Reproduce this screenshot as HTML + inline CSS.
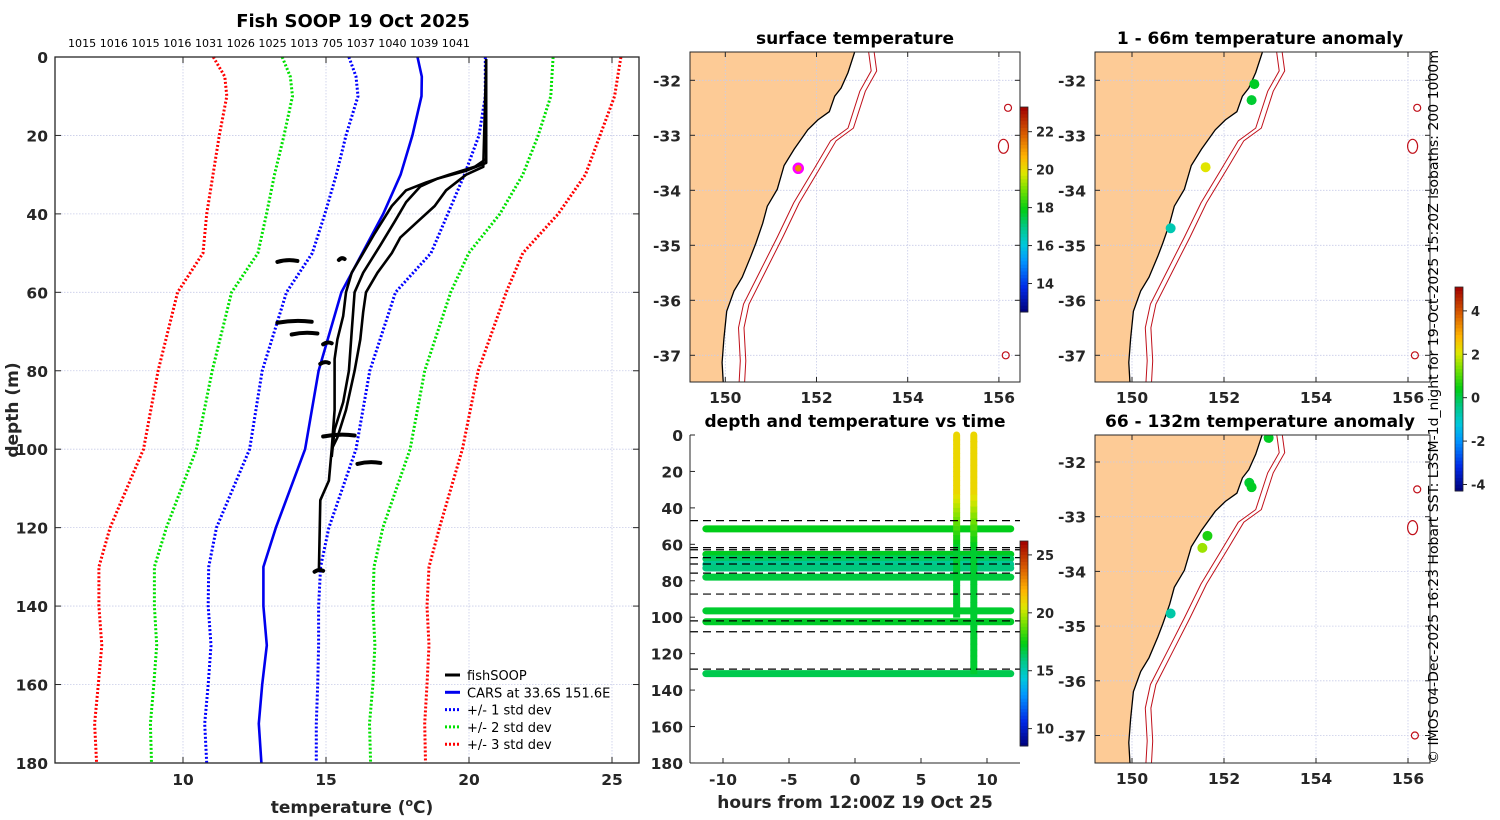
<!DOCTYPE html>
<html><head><meta charset="utf-8">
<style>
html,body{margin:0;padding:0;background:#fff;}
svg{display:block;font-family:"DejaVu Sans","Liberation Sans",sans-serif;}
.tk{font-size:15.5px;font-weight:bold;fill:#262626;}
.ttl{font-size:17px;font-weight:bold;fill:#000;}
</style></head>
<body>
<svg id="fig" width="1500" height="820" viewBox="0 0 1500 820" xmlns="http://www.w3.org/2000/svg">
<rect x="0" y="0" width="1500" height="820" fill="#fff"/>
<g id="left"></g>
<g id="mtop"></g>
<g id="mbot"></g>
<g id="rtop"></g>
<g id="rbot"></g>
<text transform="translate(1438,764) rotate(-90)" font-size="13" fill="#000" textLength="714" lengthAdjust="spacingAndGlyphs">© IMOS 04-Dec-2025 16:23 Hobart SST: L3SM-1d_night for 19-Oct-2025 15:20Z isobaths: 200  1000m</text>
</svg>
<script>
// ---------- DATA ----------
const depthLevels=[0,5,10,20,30,40,50,60,80,100,120,130,140,150,160,170,180];
const carsMean=[18.2,18.35,18.34,18.02,17.61,17.0,16.27,15.54,14.74,14.27,13.25,12.81,12.81,12.93,12.77,12.65,12.74];
const sd1Low=[15.8,16.05,16.12,15.7,15.36,14.96,14.52,13.62,12.77,12.33,11.17,10.9,10.88,10.98,10.88,10.76,10.83];
const sd1High=[20.57,20.57,20.57,20.35,19.84,19.26,18.67,17.43,16.53,16.05,15.1,14.81,14.74,14.74,14.71,14.66,14.66];
const sd2Low=[13.47,13.75,13.83,13.53,13.2,12.92,12.62,11.7,11.02,10.47,9.42,9.0,9.0,9.08,8.98,8.86,8.9];
const sd2High=[22.94,22.9,22.86,22.42,21.88,21.08,19.99,19.36,18.45,17.94,16.99,16.68,16.64,16.71,16.64,16.52,16.56];
const sd3Low=[11.06,11.46,11.53,11.27,11.05,10.83,10.7,9.81,9.13,8.62,7.45,7.06,7.06,7.16,7.04,6.91,6.98];
const sd3High=[25.31,25.2,25.09,24.58,24.07,23.12,21.88,21.3,20.32,19.77,18.97,18.6,18.53,18.6,18.53,18.45,18.48];
const profA_d=[0.5,26,28,30,32,34,38,45,50,55,60,66,72,77,90,100,108,113,131];
const profA_t=[20.6,20.6,20.2,19.3,18.5,17.8,17.3,16.7,16.3,15.9,15.7,15.6,15.4,15.3,15.3,15.2,15.1,14.8,14.75];
const profB_d=[0.5,27,29,31,33,37,42,48,55,60,70,80,88,95,102];
const profB_t=[20.6,20.6,19.9,18.9,18.3,17.8,17.4,16.9,16.3,16.0,15.9,15.8,15.6,15.3,15.2];
const profC_d=[0.5,28,30,34,38,42,46,50,55,60,65,72,80,90,97,100];
const profC_t=[20.6,20.5,19.9,19.2,18.8,18.2,17.6,17.3,16.8,16.4,16.3,16.2,16.0,15.7,15.4,15.2];
const blobDepth=[52,51.5,67.5,70.5,73,78,96.5,103.5,131];
const blobT0=[13.3,15.45,13.3,13.8,14.9,14.8,14.9,16.1,14.6];
const blobT1=[14.0,15.65,14.5,14.7,15.2,15.1,16.0,16.9,14.9];
const mooringIds=["1015","1016","1015","1016","1031","1026","1025","1013","705","1037","1040","1039","1041"];
const coastLon=[152.87,152.69,152.54,152.40,152.28,152.03,151.81,151.51,151.29,151.14,150.92,150.82,150.67,150.56,150.37,150.19,150.03,149.97,149.93,149.97];
const coastLat=[-31.4,-31.86,-32.14,-32.29,-32.57,-32.72,-32.9,-33.25,-33.55,-33.98,-34.29,-34.6,-34.96,-35.2,-35.58,-35.83,-36.2,-36.7,-37.13,-37.7];
const iso200Lon=[153.13,153.2,152.95,152.69,152.31,151.94,151.5,151.14,150.77,150.4,150.29,150.33,150.29];
const iso200Lat=[-31.4,-31.83,-32.2,-32.87,-33.1,-33.62,-34.23,-34.85,-35.46,-36.07,-36.5,-37.1,-37.7];
const islandLon=[156.2,156.1,156.15];
const islandLat=[-32.5,-33.2,-37.0];
const sstLon=[151.6], sstLat=[-33.6], sstVal=[21];
const anomTopLon=[152.66,152.6,151.6,150.84], anomTopLat=[-32.07,-32.36,-33.58,-34.69], anomTopVal=[0.3,0.2,2.1,-0.8];
const anomBotLon=[152.97,152.55,152.6,151.64,151.53,150.84], anomBotLat=[-31.56,-32.38,-32.46,-33.35,-33.57,-34.77], anomBotVal=[0.3,0.2,0.3,0.6,1.6,-0.7];
const trackDepth=[51.5,65.5,68,71,73,78,96.5,102.5,131];
const trackTemp=[17.3,17.2,16.4,15.6,16.0,16.8,17.0,17.1,16.6];
const castHour=[7.7,9.0], castBottom=[100,131];
const dashDepth=[47,61.8,63,67.3,70.8,75.8,87.3,102,108,128.5];

const NS="http://www.w3.org/2000/svg";
function mk(parent,tag,attrs,text){const e=document.createElementNS(NS,tag);for(const k in attrs)e.setAttribute(k,attrs[k]);if(text!==undefined)e.textContent=text;parent.appendChild(e);return e;}
const cmapStops=[[0,[0,0,120]],[0.12,[0,40,230]],[0.25,[0,150,255]],[0.33,[0,200,220]],[0.42,[0,200,130]],[0.5,[0,205,20]],[0.6,[120,225,0]],[0.68,[225,230,0]],[0.76,[255,180,0]],[0.86,[220,100,0]],[1,[160,0,0]]];
function jet(v){v=Math.max(0,Math.min(1,v));for(let i=1;i<cmapStops.length;i++){if(v<=cmapStops[i][0]){const [a,ca]=cmapStops[i-1],[b,cb]=cmapStops[i];const f=(v-a)/(b-a);return `rgb(${ca.map((c,k)=>Math.round(c+(cb[k]-c)*f)).join(',')})`;}}return 'rgb(160,0,0)';}
function pathOf(xs,ys){return xs.map((x,i)=>(i?'L':'M')+x.toFixed(1)+','+ys[i].toFixed(1)).join('');}

// ---------- LEFT PROFILE ----------
(function(){
const g=document.getElementById('left');
const X0=55,X1=639,Y0=57,Y1=763;
const xT=t=>183+(t-10)*28.6, yD=d=>57+d*3.922;
mk(g,'text',{x:353,y:27,'text-anchor':'middle','font-size':18,'font-weight':'bold',},'Fish SOOP 19 Oct 2025');
mk(g,'text',{x:68,y:47,'font-size':10.5,textLength:402,lengthAdjust:'spacingAndGlyphs',},mooringIds.join(' '));
[10,15,20,25].forEach(t=>{mk(g,'line',{x1:xT(t),x2:xT(t),y1:Y0,y2:Y1,stroke:'#c8cce8','stroke-width':0.8,'stroke-dasharray':'1.5 1.5',});});
for(let d=20;d<180;d+=20){mk(g,'line',{x1:X0,x2:X1,y1:yD(d),y2:yD(d),stroke:'#c8cce8','stroke-width':0.8,'stroke-dasharray':'1.5 1.5',});}
const sets=[[sd3Low,'#ff0000'],[sd3High,'#ff0000'],[sd2Low,'#00e000'],[sd2High,'#00e000'],[sd1Low,'#0000ff'],[sd1High,'#0000ff']];
sets.forEach(([arr,c])=>{const p=mk(g,'path',{d:pathOf(arr.map(xT),depthLevels.map(yD)),fill:'none',stroke:c,'stroke-width':3,'stroke-dasharray':'2 2'});

});
const m=mk(g,'path',{d:pathOf(carsMean.map(xT),depthLevels.map(yD)),fill:'none',stroke:'#0000ee','stroke-width':2.6});


[[profA_t,profA_d],[profB_t,profB_d],[profC_t,profC_d]].forEach(([t,d])=>{const p=mk(g,'path',{d:pathOf(t.map(xT),d.map(yD)),fill:'none',stroke:'#000','stroke-width':2.6,'stroke-linejoin':'round'});

});
blobDepth.forEach((d,i)=>{const p=mk(g,'path',{d:`M${xT(blobT0[i])},${yD(d)+1}Q${(xT(blobT0[i])+xT(blobT1[i]))/2},${yD(d)-2} ${xT(blobT1[i])},${yD(d)}`,fill:'none',stroke:'#000','stroke-width':4,'stroke-linecap':'round'});

});
mk(g,'rect',{x:X0,y:Y0,width:X1-X0,height:Y1-Y0,fill:'none',stroke:'#262626','stroke-width':1.3,});
for(let d=0;d<=180;d+=20){mk(g,'line',{x1:X0,x2:X0+6,y1:yD(d),y2:yD(d),stroke:'#262626'});mk(g,'line',{x1:X1-6,x2:X1,y1:yD(d),y2:yD(d),stroke:'#262626'});
const t=mk(g,'text',{x:X0-7,y:yD(d)+6,'text-anchor':'end',class:'tk'},String(d));}
[10,15,20,25].forEach(v=>{mk(g,'line',{x1:xT(v),x2:xT(v),y1:Y1-6,y2:Y1,stroke:'#262626'});mk(g,'line',{x1:xT(v),x2:xT(v),y1:Y0,y2:Y0+6,stroke:'#262626'});
const t=mk(g,'text',{x:xT(v),y:785,'text-anchor':'middle',class:'tk'},String(v));});
const xl=mk(g,'text',{x:352,y:813,'text-anchor':'middle','font-size':17,'font-weight':'bold',fill:'#262626'});xl.innerHTML='temperature (<tspan dy="-7" font-size="11">o</tspan><tspan dy="7">C)</tspan>';

mk(g,'text',{transform:'translate(18,410) rotate(-90)','text-anchor':'middle','font-size':17,'font-weight':'bold',fill:'#262626',},'depth (m)');
const leg=[['fishSOOP','#000',''],['CARS at 33.6S 151.6E','#0000ee',''],['+/- 1 std dev','#0000ff','2 2'],['+/- 2 std dev','#00e000','2 2'],['+/- 3 std dev','#ff0000','2 2']];
leg.forEach((l,i)=>{const y=675+i*17.3;const lg=mk(g,'g',{});
mk(lg,'line',{x1:445,x2:460,y1:y,y2:y,stroke:l[1],'stroke-width':3,'stroke-dasharray':l[2]||'none'});
mk(lg,'text',{x:467,y:y+5,'font-size':13,fill:'#000'},l[0]);});
})();

// ---------- MAPS ----------
function drawMap(g,opt){
const {X0,X1,Y0,Y1,lon150,latY32,pxLon,pxLat,id}=opt;
const lx=l=>lon150+(l-150)*pxLon, ly=a=>latY32+(-32-a)*pxLat;
const cp=mk(g,'clipPath',{id:id});mk(cp,'rect',{x:X0,y:Y0,width:X1-X0,height:Y1-Y0});
const c=mk(g,'g',{'clip-path':`url(#${id})`});
const cx=coastLon.map(lx),cy=coastLat.map(ly);
const land=mk(c,'path',{d:pathOf(cx,cy)+`L${X0-5},${Y1+10}L${X0-5},${Y0-10}Z`,fill:'#fdcb96',stroke:'none'});

for(let l=150;l<=156;l+=2)mk(c,'line',{x1:lx(l),x2:lx(l),y1:Y0,y2:Y1,stroke:'#c8cce8','stroke-width':0.8,'stroke-dasharray':'1.5 1.5'});
for(let a=-32;a>=-37;a--)mk(c,'line',{x1:X0,x2:X1,y1:ly(a),y2:ly(a),stroke:'#c8cce8','stroke-width':0.8,'stroke-dasharray':'1.5 1.5'});
const cl=mk(c,'path',{d:pathOf(cx,cy),fill:'none',stroke:'#000','stroke-width':1.3});

[0,0.12].forEach(off=>{const p=mk(c,'path',{d:pathOf(iso200Lon.map(l=>lx(l+off)),iso200Lat.map(ly)),fill:'none',stroke:'#c0101a','stroke-width':1});
});
islandLon.forEach((l,i)=>{const e=mk(c,'ellipse',{cx:lx(l),cy:ly(islandLat[i]),rx:i==1?5:3.5,ry:i==1?7:3.5,fill:'none',stroke:'#c0101a','stroke-width':1.2});
});
opt.marks(c,lx,ly);
mk(g,'rect',{x:X0,y:Y0,width:X1-X0,height:Y1-Y0,fill:'none',stroke:'#262626','stroke-width':1,});
for(let l=150;l<=156;l+=2){mk(g,'line',{x1:lx(l),x2:lx(l),y1:Y1-5,y2:Y1,stroke:'#262626'});mk(g,'line',{x1:lx(l),x2:lx(l),y1:Y0,y2:Y0+5,stroke:'#262626'});
const t=mk(g,'text',{x:lx(l),y:Y1+21,'text-anchor':'middle',class:'tk'},String(l));}
for(let a=-32;a>=-37;a--){mk(g,'line',{x1:X0,x2:X0+5,y1:ly(a),y2:ly(a),stroke:'#262626'});mk(g,'line',{x1:X1-5,x2:X1,y1:ly(a),y2:ly(a),stroke:'#262626'});
const t=mk(g,'text',{x:X0-9,y:ly(a)+6,'text-anchor':'end',class:'tk'},String(a));}
}
function colorbar(g,x,y0,y1,vmin,vmax,ticks,name){
const n=60,h=(y1-y0)/n;const cb=mk(g,'g',{});
for(let i=0;i<n;i++)mk(cb,'rect',{x:x,y:y1-(i+1)*h,width:8,height:h+0.5,fill:jet((i+0.5)/n)});
mk(cb,'rect',{x:x,y:y0,width:8,height:y1-y0,fill:'none',stroke:'#262626','stroke-width':0.8});
ticks.forEach(t=>{const y=y1-(t-vmin)/(vmax-vmin)*(y1-y0);mk(cb,'line',{x1:x+8,x2:x+12,y1:y,y2:y,stroke:'#262626'});mk(cb,'text',{x:x+16,y:y+5,'font-size':13,'font-weight':'bold',fill:'#262626'},String(t));});
}
const mtop=document.getElementById('mtop');
mk(mtop,'text',{x:855,y:44,'text-anchor':'middle',class:'ttl',},'surface temperature');
drawMap(mtop,{X0:690,X1:1020,Y0:52,Y1:382,lon150:725.3,latY32:80.3,pxLon:45.6,pxLat:55,id:'c1',marks:(c,lx,ly)=>{
sstLon.forEach((l,i)=>{const o=mk(c,'circle',{cx:lx(l),cy:ly(sstLat[i]),r:4.5,fill:jet((sstVal[i]-12.5)/(23-12.5)),stroke:'#ff00ff','stroke-width':2.5});
});}});
colorbar(mtop,1020,107,312,12.5,23.3,[14,16,18,20,22],'sst-colorbar');

const rtop=document.getElementById('rtop');
mk(rtop,'text',{x:1260,y:44,'text-anchor':'middle',class:'ttl',},'1 - 66m temperature anomaly');
const anomMin=-4.3,anomMax=5.1;
drawMap(rtop,{X0:1095,X1:1430,Y0:52,Y1:382,lon150:1132,latY32:80.3,pxLon:46,pxLat:55,id:'c2',marks:(c,lx,ly)=>{
anomTopLon.forEach((l,i)=>{const o=mk(c,'circle',{cx:lx(l),cy:ly(anomTopLat[i]),r:5,fill:jet((anomTopVal[i]-anomMin)/(anomMax-anomMin))});
});}});
colorbar(rtop,1455,287,491,anomMin,anomMax,[4,2,0,-2,-4],'anomaly-colorbar');

const rbot=document.getElementById('rbot');
mk(rbot,'text',{x:1260,y:427,'text-anchor':'middle',class:'ttl',},'66 - 132m temperature anomaly');
drawMap(rbot,{X0:1095,X1:1430,Y0:435,Y1:763,lon150:1132,latY32:462,pxLon:46,pxLat:54.7,id:'c3',marks:(c,lx,ly)=>{
anomBotLon.forEach((l,i)=>{const o=mk(c,'circle',{cx:lx(l),cy:ly(anomBotLat[i]),r:5,fill:jet((anomBotVal[i]-anomMin)/(anomMax-anomMin))});
});}});

// ---------- DEPTH vs TIME ----------
(function(){
const g=document.getElementById('mbot');
const X0=690,X1=1020,Y0=435,Y1=763;
const xH=h=>855+h*13.2, yD=d=>435+d*1.822;
const tmin=8.5,tmax=26.2,tc=t=>jet((t-tmin)/(tmax-tmin));
mk(g,'text',{x:855,y:427,'text-anchor':'middle',class:'ttl',},'depth and temperature vs time');
trackDepth.forEach((d,i)=>{const l=mk(g,'line',{x1:xH(-11.3),x2:xH(11.8),y1:yD(d),y2:yD(d),stroke:tc(trackTemp[i]),'stroke-width':7,'stroke-linecap':'round'});
});
castHour.forEach((h,i)=>{const n=40;for(let k=0;k<n;k++){const d0=castBottom[i]*k/n,d1=castBottom[i]*(k+1)/n;const t=d0<30?21:(d0<60?21-(d0-30)*0.13:17);
const s=mk(g,'line',{x1:xH(h),x2:xH(h),y1:yD(d0),y2:yD(d1)+0.5,stroke:tc(t),'stroke-width':7,'stroke-linecap':k==0?'round':'butt'});
}});
dashDepth.forEach(d=>{const l=mk(g,'line',{x1:X0,x2:X1,y1:yD(d),y2:yD(d),stroke:'#000','stroke-width':1.2,'stroke-dasharray':'8 5'});
});
mk(g,'line',{x1:X0,x2:X0,y1:Y0,y2:Y1,stroke:'#262626','stroke-width':1});
mk(g,'line',{x1:X0,x2:X1,y1:Y1,y2:Y1,stroke:'#262626','stroke-width':1});
for(let d=0;d<=180;d+=20){mk(g,'line',{x1:X0,x2:X0+5,y1:yD(d),y2:yD(d),stroke:'#262626'});
const t=mk(g,'text',{x:X0-7,y:yD(d)+6,'text-anchor':'end',class:'tk'},String(d));}
[-10,-5,0,5,10].forEach(h=>{mk(g,'line',{x1:xH(h),x2:xH(h),y1:Y1-5,y2:Y1,stroke:'#262626'});
const t=mk(g,'text',{x:xH(h),y:785,'text-anchor':'middle',class:'tk'},String(h));});
mk(g,'text',{x:855,y:808,'text-anchor':'middle','font-size':17,'font-weight':'bold',fill:'#262626',},'hours from 12:00Z 19 Oct 25');
colorbar(g,1020,541,746,tmin,tmax,[25,20,15,10],'temperature-colorbar');
})();
</script>
</body></html>
